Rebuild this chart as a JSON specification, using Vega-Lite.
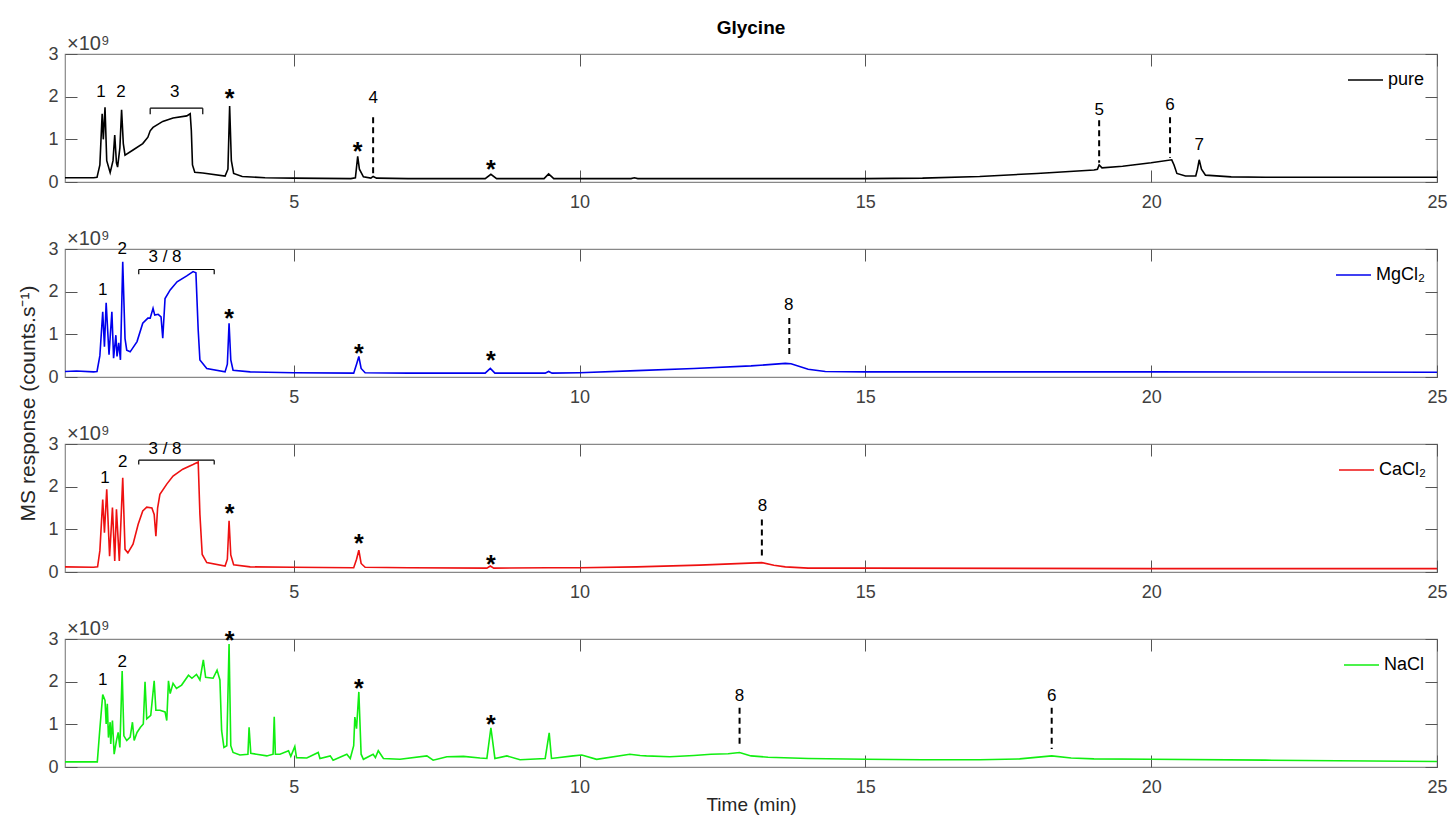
{
 "$schema": "https://vega.github.io/schema/vega-lite/v6.json",
 "padding": {"left": 16, "top": 19, "right": 10, "bottom": 5},
 "background": "white",
 "title": {"text": "Glycine", "fontSize": 19, "fontWeight": "bold", "font": "Liberation Sans", "anchor": "middle", "frame": "group", "color": "#000000", "offset": -5},
 "bounds": "flush",
 "spacing": 67,
 "resolve": {"scale": {"color": "independent"}, "legend": {"color": "independent"}},
 "datasets": {
  "d1": [
   {"s":"pure","t":1.0,"v":0.10},{"s":"pure","t":1.5,"v":0.10},{"s":"pure","t":1.56,"v":0.11},{"s":"pure","t":1.61,"v":0.4},{"s":"pure","t":1.65,"v":1.6},{"s":"pure","t":1.67,"v":1.0},{"s":"pure","t":1.70,"v":1.75},{"s":"pure","t":1.73,"v":0.5},{"s":"pure","t":1.79,"v":0.22},{"s":"pure","t":1.84,"v":0.5},{"s":"pure","t":1.87,"v":1.1},{"s":"pure","t":1.90,"v":0.45},{"s":"pure","t":1.92,"v":0.35},{"s":"pure","t":1.96,"v":0.8},{"s":"pure","t":1.99,"v":1.69},{"s":"pure","t":2.02,"v":0.9},{"s":"pure","t":2.05,"v":0.63},{"s":"pure","t":2.19,"v":0.75},{"s":"pure","t":2.36,"v":0.9},{"s":"pure","t":2.45,"v":1.05},{"s":"pure","t":2.49,"v":1.2},{"s":"pure","t":2.54,"v":1.28},{"s":"pure","t":2.71,"v":1.42},{"s":"pure","t":2.89,"v":1.5},{"s":"pure","t":3.13,"v":1.55},{"s":"pure","t":3.19,"v":1.6},{"s":"pure","t":3.21,"v":1.2},{"s":"pure","t":3.23,"v":0.4},{"s":"pure","t":3.27,"v":0.23},{"s":"pure","t":3.41,"v":0.21},{"s":"pure","t":3.80,"v":0.14},{"s":"pure","t":3.85,"v":0.3},{"s":"pure","t":3.88,"v":1.78},{"s":"pure","t":3.91,"v":0.5},{"s":"pure","t":3.95,"v":0.2},{"s":"pure","t":4.1,"v":0.13},{"s":"pure","t":4.5,"v":0.1},{"s":"pure","t":5.0,"v":0.09},{"s":"pure","t":6.0,"v":0.08},{"s":"pure","t":6.08,"v":0.1},{"s":"pure","t":6.12,"v":0.6},{"s":"pure","t":6.15,"v":0.3},{"s":"pure","t":6.22,"v":0.12},{"s":"pure","t":6.35,"v":0.09},{"s":"pure","t":6.39,"v":0.13},{"s":"pure","t":6.45,"v":0.09},{"s":"pure","t":7,"v":0.08},{"s":"pure","t":8.35,"v":0.08},{"s":"pure","t":8.45,"v":0.18},{"s":"pure","t":8.55,"v":0.08},{"s":"pure","t":9.38,"v":0.08},{"s":"pure","t":9.46,"v":0.19},{"s":"pure","t":9.55,"v":0.08},{"s":"pure","t":10.9,"v":0.08},{"s":"pure","t":10.96,"v":0.1},{"s":"pure","t":11.02,"v":0.08},{"s":"pure","t":14,"v":0.08},{"s":"pure","t":15,"v":0.08},{"s":"pure","t":16,"v":0.09},{"s":"pure","t":17,"v":0.13},{"s":"pure","t":18,"v":0.2},{"s":"pure","t":19.0,"v":0.28},{"s":"pure","t":19.06,"v":0.3},{"s":"pure","t":19.09,"v":0.4},{"s":"pure","t":19.14,"v":0.33},{"s":"pure","t":19.5,"v":0.37},{"s":"pure","t":20.0,"v":0.45},{"s":"pure","t":20.36,"v":0.52},{"s":"pure","t":20.40,"v":0.4},{"s":"pure","t":20.45,"v":0.2},{"s":"pure","t":20.6,"v":0.14},{"s":"pure","t":20.78,"v":0.14},{"s":"pure","t":20.81,"v":0.3},{"s":"pure","t":20.84,"v":0.52},{"s":"pure","t":20.88,"v":0.3},{"s":"pure","t":20.95,"v":0.16},{"s":"pure","t":21.4,"v":0.12},{"s":"pure","t":22,"v":0.11},{"s":"pure","t":25,"v":0.11}
  ],
  "d2": [
   {"s":"MgCl₂","t":1,"v":0.13},{"s":"MgCl₂","t":1.2,"v":0.14},{"s":"MgCl₂","t":1.5,"v":0.12},{"s":"MgCl₂","t":1.56,"v":0.13},{"s":"MgCl₂","t":1.61,"v":0.5},{"s":"MgCl₂","t":1.66,"v":1.53},{"s":"MgCl₂","t":1.69,"v":0.71},{"s":"MgCl₂","t":1.72,"v":1.74},{"s":"MgCl₂","t":1.77,"v":0.52},{"s":"MgCl₂","t":1.82,"v":1.53},{"s":"MgCl₂","t":1.85,"v":0.44},{"s":"MgCl₂","t":1.89,"v":0.98},{"s":"MgCl₂","t":1.91,"v":0.48},{"s":"MgCl₂","t":1.94,"v":0.8},{"s":"MgCl₂","t":1.97,"v":0.4},{"s":"MgCl₂","t":2.01,"v":2.70},{"s":"MgCl₂","t":2.05,"v":0.9},{"s":"MgCl₂","t":2.08,"v":0.63},{"s":"MgCl₂","t":2.14,"v":0.59},{"s":"MgCl₂","t":2.26,"v":0.83},{"s":"MgCl₂","t":2.36,"v":1.26},{"s":"MgCl₂","t":2.45,"v":1.38},{"s":"MgCl₂","t":2.49,"v":1.38},{"s":"MgCl₂","t":2.54,"v":1.61},{"s":"MgCl₂","t":2.57,"v":1.45},{"s":"MgCl₂","t":2.63,"v":1.47},{"s":"MgCl₂","t":2.68,"v":1.41},{"s":"MgCl₂","t":2.71,"v":0.91},{"s":"MgCl₂","t":2.75,"v":1.84},{"s":"MgCl₂","t":2.84,"v":2.04},{"s":"MgCl₂","t":2.96,"v":2.23},{"s":"MgCl₂","t":3.13,"v":2.37},{"s":"MgCl₂","t":3.24,"v":2.47},{"s":"MgCl₂","t":3.29,"v":2.44},{"s":"MgCl₂","t":3.33,"v":1.10},{"s":"MgCl₂","t":3.36,"v":0.40},{"s":"MgCl₂","t":3.48,"v":0.20},{"s":"MgCl₂","t":3.80,"v":0.12},{"s":"MgCl₂","t":3.84,"v":0.3},{"s":"MgCl₂","t":3.87,"v":1.26},{"s":"MgCl₂","t":3.9,"v":0.4},{"s":"MgCl₂","t":3.94,"v":0.16},{"s":"MgCl₂","t":4.24,"v":0.12},{"s":"MgCl₂","t":5,"v":0.1},{"s":"MgCl₂","t":6.05,"v":0.09},{"s":"MgCl₂","t":6.1,"v":0.3},{"s":"MgCl₂","t":6.14,"v":0.48},{"s":"MgCl₂","t":6.18,"v":0.2},{"s":"MgCl₂","t":6.25,"v":0.1},{"s":"MgCl₂","t":7,"v":0.09},{"s":"MgCl₂","t":8.35,"v":0.09},{"s":"MgCl₂","t":8.44,"v":0.2},{"s":"MgCl₂","t":8.52,"v":0.09},{"s":"MgCl₂","t":9.4,"v":0.09},{"s":"MgCl₂","t":9.46,"v":0.13},{"s":"MgCl₂","t":9.52,"v":0.09},{"s":"MgCl₂","t":10,"v":0.1},{"s":"MgCl₂","t":11,"v":0.15},{"s":"MgCl₂","t":12,"v":0.2},{"s":"MgCl₂","t":13,"v":0.26},{"s":"MgCl₂","t":13.6,"v":0.32},{"s":"MgCl₂","t":13.7,"v":0.31},{"s":"MgCl₂","t":14.0,"v":0.18},{"s":"MgCl₂","t":14.3,"v":0.13},{"s":"MgCl₂","t":15,"v":0.12},{"s":"MgCl₂","t":20,"v":0.12},{"s":"MgCl₂","t":25,"v":0.11}
  ],
  "d3": [
   {"s":"CaCl₂","t":1,"v":0.12},{"s":"CaCl₂","t":1.5,"v":0.11},{"s":"CaCl₂","t":1.57,"v":0.12},{"s":"CaCl₂","t":1.61,"v":0.5},{"s":"CaCl₂","t":1.66,"v":1.70},{"s":"CaCl₂","t":1.69,"v":0.92},{"s":"CaCl₂","t":1.73,"v":1.94},{"s":"CaCl₂","t":1.78,"v":0.37},{"s":"CaCl₂","t":1.83,"v":1.51},{"s":"CaCl₂","t":1.87,"v":0.26},{"s":"CaCl₂","t":1.90,"v":1.47},{"s":"CaCl₂","t":1.95,"v":0.26},{"s":"CaCl₂","t":2.01,"v":2.21},{"s":"CaCl₂","t":2.05,"v":0.53},{"s":"CaCl₂","t":2.10,"v":0.45},{"s":"CaCl₂","t":2.19,"v":0.65},{"s":"CaCl₂","t":2.28,"v":1.12},{"s":"CaCl₂","t":2.36,"v":1.43},{"s":"CaCl₂","t":2.43,"v":1.52},{"s":"CaCl₂","t":2.52,"v":1.50},{"s":"CaCl₂","t":2.56,"v":1.35},{"s":"CaCl₂","t":2.59,"v":0.84},{"s":"CaCl₂","t":2.62,"v":1.50},{"s":"CaCl₂","t":2.66,"v":1.82},{"s":"CaCl₂","t":2.78,"v":2.06},{"s":"CaCl₂","t":2.89,"v":2.25},{"s":"CaCl₂","t":3.06,"v":2.41},{"s":"CaCl₂","t":3.24,"v":2.52},{"s":"CaCl₂","t":3.33,"v":2.58},{"s":"CaCl₂","t":3.36,"v":1.35},{"s":"CaCl₂","t":3.40,"v":0.41},{"s":"CaCl₂","t":3.48,"v":0.22},{"s":"CaCl₂","t":3.80,"v":0.14},{"s":"CaCl₂","t":3.84,"v":0.3},{"s":"CaCl₂","t":3.87,"v":1.20},{"s":"CaCl₂","t":3.9,"v":0.4},{"s":"CaCl₂","t":3.95,"v":0.17},{"s":"CaCl₂","t":4.24,"v":0.12},{"s":"CaCl₂","t":5,"v":0.11},{"s":"CaCl₂","t":6.05,"v":0.1},{"s":"CaCl₂","t":6.1,"v":0.3},{"s":"CaCl₂","t":6.14,"v":0.51},{"s":"CaCl₂","t":6.18,"v":0.2},{"s":"CaCl₂","t":6.25,"v":0.11},{"s":"CaCl₂","t":7,"v":0.1},{"s":"CaCl₂","t":8.38,"v":0.09},{"s":"CaCl₂","t":8.44,"v":0.14},{"s":"CaCl₂","t":8.5,"v":0.09},{"s":"CaCl₂","t":9.45,"v":0.1},{"s":"CaCl₂","t":10,"v":0.1},{"s":"CaCl₂","t":11,"v":0.12},{"s":"CaCl₂","t":12.1,"v":0.16},{"s":"CaCl₂","t":13.19,"v":0.22},{"s":"CaCl₂","t":13.4,"v":0.16},{"s":"CaCl₂","t":13.6,"v":0.12},{"s":"CaCl₂","t":14,"v":0.09},{"s":"CaCl₂","t":15,"v":0.09},{"s":"CaCl₂","t":20,"v":0.08},{"s":"CaCl₂","t":25,"v":0.08}
  ],
  "d4": [
   {"s":"NaCl","t":1,"v":0.12},{"s":"NaCl","t":1.565,"v":0.12},{"s":"NaCl","t":1.61,"v":0.9},{"s":"NaCl","t":1.66,"v":1.70},{"s":"NaCl","t":1.70,"v":1.56},{"s":"NaCl","t":1.72,"v":1.01},{"s":"NaCl","t":1.74,"v":1.48},{"s":"NaCl","t":1.76,"v":0.69},{"s":"NaCl","t":1.79,"v":1.05},{"s":"NaCl","t":1.80,"v":0.54},{"s":"NaCl","t":1.83,"v":1.09},{"s":"NaCl","t":1.86,"v":0.30},{"s":"NaCl","t":1.90,"v":0.62},{"s":"NaCl","t":1.93,"v":0.81},{"s":"NaCl","t":1.96,"v":0.46},{"s":"NaCl","t":2.00,"v":2.25},{"s":"NaCl","t":2.03,"v":0.73},{"s":"NaCl","t":2.08,"v":0.62},{"s":"NaCl","t":2.14,"v":0.70},{"s":"NaCl","t":2.18,"v":1.05},{"s":"NaCl","t":2.21,"v":0.62},{"s":"NaCl","t":2.26,"v":0.81},{"s":"NaCl","t":2.32,"v":0.93},{"s":"NaCl","t":2.37,"v":1.01},{"s":"NaCl","t":2.40,"v":2.0},{"s":"NaCl","t":2.43,"v":1.13},{"s":"NaCl","t":2.50,"v":1.21},{"s":"NaCl","t":2.56,"v":2.02},{"s":"NaCl","t":2.59,"v":1.33},{"s":"NaCl","t":2.66,"v":1.33},{"s":"NaCl","t":2.75,"v":1.29},{"s":"NaCl","t":2.78,"v":1.09},{"s":"NaCl","t":2.81,"v":2.02},{"s":"NaCl","t":2.84,"v":1.72},{"s":"NaCl","t":2.89,"v":1.96},{"s":"NaCl","t":2.95,"v":1.84},{"s":"NaCl","t":3.04,"v":1.92},{"s":"NaCl","t":3.16,"v":2.15},{"s":"NaCl","t":3.22,"v":2.08},{"s":"NaCl","t":3.30,"v":2.17},{"s":"NaCl","t":3.36,"v":2.04},{"s":"NaCl","t":3.42,"v":2.51},{"s":"NaCl","t":3.46,"v":2.10},{"s":"NaCl","t":3.59,"v":2.08},{"s":"NaCl","t":3.66,"v":2.27},{"s":"NaCl","t":3.71,"v":2.04},{"s":"NaCl","t":3.74,"v":0.85},{"s":"NaCl","t":3.78,"v":0.46},{"s":"NaCl","t":3.83,"v":0.50},{"s":"NaCl","t":3.87,"v":2.88},{"s":"NaCl","t":3.90,"v":0.5},{"s":"NaCl","t":3.94,"v":0.34},{"s":"NaCl","t":4.06,"v":0.28},{"s":"NaCl","t":4.20,"v":0.3},{"s":"NaCl","t":4.22,"v":0.93},{"s":"NaCl","t":4.25,"v":0.32},{"s":"NaCl","t":4.35,"v":0.30},{"s":"NaCl","t":4.53,"v":0.26},{"s":"NaCl","t":4.64,"v":0.3},{"s":"NaCl","t":4.66,"v":1.18},{"s":"NaCl","t":4.68,"v":0.30},{"s":"NaCl","t":4.76,"v":0.30},{"s":"NaCl","t":4.91,"v":0.38},{"s":"NaCl","t":4.95,"v":0.25},{"s":"NaCl","t":5.02,"v":0.48},{"s":"NaCl","t":5.05,"v":0.22},{"s":"NaCl","t":5.23,"v":0.21},{"s":"NaCl","t":5.43,"v":0.34},{"s":"NaCl","t":5.46,"v":0.2},{"s":"NaCl","t":5.64,"v":0.26},{"s":"NaCl","t":5.69,"v":0.16},{"s":"NaCl","t":5.93,"v":0.30},{"s":"NaCl","t":5.99,"v":0.2},{"s":"NaCl","t":6.05,"v":0.5},{"s":"NaCl","t":6.07,"v":1.17},{"s":"NaCl","t":6.10,"v":0.9},{"s":"NaCl","t":6.14,"v":1.76},{"s":"NaCl","t":6.18,"v":0.3},{"s":"NaCl","t":6.22,"v":0.18},{"s":"NaCl","t":6.39,"v":0.30},{"s":"NaCl","t":6.43,"v":0.22},{"s":"NaCl","t":6.48,"v":0.38},{"s":"NaCl","t":6.57,"v":0.2},{"s":"NaCl","t":6.86,"v":0.18},{"s":"NaCl","t":7.33,"v":0.26},{"s":"NaCl","t":7.44,"v":0.16},{"s":"NaCl","t":7.68,"v":0.24},{"s":"NaCl","t":7.97,"v":0.25},{"s":"NaCl","t":8.26,"v":0.21},{"s":"NaCl","t":8.38,"v":0.2},{"s":"NaCl","t":8.45,"v":0.92},{"s":"NaCl","t":8.52,"v":0.2},{"s":"NaCl","t":8.73,"v":0.26},{"s":"NaCl","t":8.96,"v":0.17},{"s":"NaCl","t":9.40,"v":0.2},{"s":"NaCl","t":9.47,"v":0.80},{"s":"NaCl","t":9.51,"v":0.2},{"s":"NaCl","t":9.89,"v":0.26},{"s":"NaCl","t":10.04,"v":0.28},{"s":"NaCl","t":10.30,"v":0.18},{"s":"NaCl","t":10.88,"v":0.30},{"s":"NaCl","t":11.06,"v":0.27},{"s":"NaCl","t":11.17,"v":0.26},{"s":"NaCl","t":11.58,"v":0.24},{"s":"NaCl","t":12.0,"v":0.27},{"s":"NaCl","t":12.3,"v":0.3},{"s":"NaCl","t":12.6,"v":0.31},{"s":"NaCl","t":12.8,"v":0.34},{"s":"NaCl","t":13.0,"v":0.26},{"s":"NaCl","t":13.3,"v":0.23},{"s":"NaCl","t":14,"v":0.2},{"s":"NaCl","t":15,"v":0.18},{"s":"NaCl","t":16,"v":0.17},{"s":"NaCl","t":17,"v":0.17},{"s":"NaCl","t":17.7,"v":0.19},{"s":"NaCl","t":18.26,"v":0.26},{"s":"NaCl","t":18.6,"v":0.21},{"s":"NaCl","t":19,"v":0.19},{"s":"NaCl","t":20,"v":0.18},{"s":"NaCl","t":22,"v":0.16},{"s":"NaCl","t":25,"v":0.13}
  ],
  "n1": [{"t":1.63,"v":2.11,"label":"1"},{"t":1.98,"v":2.11,"label":"2"},{"t":2.92,"v":2.11,"label":"3"},{"t":6.39,"v":1.97,"label":"4"},{"t":19.09,"v":1.69,"label":"5"},{"t":20.33,"v":1.80,"label":"6"},{"t":20.84,"v":0.87,"label":"7"}],
  "s1": [{"t":3.88,"v":2.11},{"t":6.12,"v":0.87},{"t":8.45,"v":0.45}],
  "r1": [{"t":6.39,"y1":1.52,"y2":0.14},{"t":19.09,"y1":1.45,"y2":0.45},{"t":20.33,"y1":1.52,"y2":0.56}],
  "b1": [{"x1":2.49,"x2":3.41,"y1":1.73,"y2":1.73},{"x1":2.49,"x2":2.49,"y1":1.73,"y2":1.59},{"x1":3.41,"x2":3.41,"y1":1.73,"y2":1.59}],
  "n2": [{"t":1.66,"v":2.05,"label":"1"},{"t":2.0,"v":2.99,"label":"2"},{"t":2.75,"v":2.82,"label":"3 / 8"},{"t":13.66,"v":1.69,"label":"8"}],
  "s2": [{"t":3.87,"v":1.53},{"t":6.14,"v":0.71},{"t":8.45,"v":0.54}],
  "r2": [{"t":13.67,"y1":1.38,"y2":0.46}],
  "b2": [{"x1":2.29,"x2":3.61,"y1":2.52,"y2":2.52},{"x1":2.29,"x2":2.29,"y1":2.52,"y2":2.41},{"x1":3.61,"x2":3.61,"y1":2.52,"y2":2.41}],
  "n3": [{"t":1.70,"v":2.21,"label":"1"},{"t":2.01,"v":2.58,"label":"2"},{"t":2.75,"v":2.89,"label":"3 / 8"},{"t":13.2,"v":1.55,"label":"8"}],
  "s3": [{"t":3.88,"v":1.52},{"t":6.14,"v":0.82},{"t":8.45,"v":0.33}],
  "r3": [{"t":13.19,"y1":1.23,"y2":0.34}],
  "b3": [{"x1":2.29,"x2":3.61,"y1":2.62,"y2":2.62},{"x1":2.29,"x2":2.29,"y1":2.62,"y2":2.52},{"x1":3.61,"x2":3.61,"y1":2.62,"y2":2.52}],
  "n4": [{"t":1.66,"v":2.04,"label":"1"},{"t":2.0,"v":2.46,"label":"2"},{"t":12.8,"v":1.67,"label":"8"},{"t":18.26,"v":1.67,"label":"6"}],
  "s4": [{"t":3.88,"v":3.11},{"t":6.14,"v":1.99},{"t":8.45,"v":1.16}],
  "r4": [{"t":12.8,"y1":1.39,"y2":0.5},{"t":18.26,"y1":1.39,"y2":0.42}],
  "exp": [{"t":1,"v":3,"label":"×10⁹"}],
  "frame": [{"t":1,"v":0}]
 },
 "vconcat": [
  {
   "width": 1372, "height": 128,
   "resolve": {"axis": {"x": "independent", "y": "independent"}},
   "layer": [
    {"data": {"name": "d1"}, "mark": {"type": "line", "strokeWidth": 1.6},
     "encoding": {
      "x": {"field": "t", "type": "quantitative", "scale": {"domain": [1, 25], "nice": false, "zero": false}, "axis": {"orient": "bottom", "values": [5, 10, 15, 20, 25], "labelPadding": 23, "title": null}},
      "y": {"field": "v", "type": "quantitative", "scale": {"domain": [0, 3], "nice": false}, "axis": {"orient": "left", "values": [0, 1, 2, 3], "labelPadding": 19, "title": null}},
      "color": {"field": "s", "type": "nominal", "scale": {"domain": ["pure"], "range": ["#000000"]}, "legend": {"orient": "none", "legendX": 1282, "legendY": 7.5, "title": null}}
     }},
    {"data": {"name": "frame"}, "mark": {"type": "point", "opacity": 0},
     "encoding": {
      "x": {"field": "t", "type": "quantitative", "scale": {"domain": [1, 25], "nice": false, "zero": false}, "axis": {"orient": "top", "values": [5, 10, 15, 20, 25], "labels": false, "title": null}},
      "y": {"field": "v", "type": "quantitative", "scale": {"domain": [0, 3], "nice": false}, "axis": {"orient": "right", "values": [0, 1, 2, 3], "labels": false, "title": null}}
     }},
    {"data": {"name": "r1"}, "mark": {"type": "rule", "strokeDash": [6, 4], "strokeWidth": 2, "color": "#000000"},
     "encoding": {"x": {"field": "t", "type": "quantitative", "axis": null}, "y": {"field": "y1", "type": "quantitative", "axis": null}, "y2": {"field": "y2"}}},
    {"data": {"name": "b1"}, "mark": {"type": "rule", "strokeWidth": 1.2, "color": "#000000"},
     "encoding": {"x": {"field": "x1", "type": "quantitative", "axis": null}, "x2": {"field": "x2"}, "y": {"field": "y1", "type": "quantitative", "axis": null}, "y2": {"field": "y2"}}},
    {"data": {"name": "n1"}, "mark": {"type": "text", "fontSize": 17, "baseline": "middle", "align": "center", "color": "#000000"},
     "encoding": {"x": {"field": "t", "type": "quantitative", "axis": null}, "y": {"field": "v", "type": "quantitative", "axis": null}, "text": {"field": "label"}}},
    {"data": {"name": "s1"}, "mark": {"type": "text", "text": "*", "fontSize": 25, "fontWeight": "bold", "baseline": "alphabetic", "dy": 15, "align": "center", "color": "#000000"},
     "encoding": {"x": {"field": "t", "type": "quantitative", "axis": null}, "y": {"field": "v", "type": "quantitative", "axis": null}}},
    {"data": {"name": "exp"}, "mark": {"type": "text", "fontSize": 20, "baseline": "alphabetic", "align": "left", "dx": 2, "dy": -4, "color": "#404040"},
     "encoding": {"x": {"field": "t", "type": "quantitative", "axis": null}, "y": {"field": "v", "type": "quantitative", "axis": null}, "text": {"field": "label"}}}
   ]
  },
  {
   "width": 1372, "height": 128,
   "resolve": {"axis": {"x": "independent", "y": "independent"}},
   "layer": [
    {"data": {"name": "d2"}, "mark": {"type": "line", "strokeWidth": 1.6},
     "encoding": {
      "x": {"field": "t", "type": "quantitative", "scale": {"domain": [1, 25], "nice": false, "zero": false}, "axis": {"orient": "bottom", "values": [5, 10, 15, 20, 25], "labelPadding": 23, "title": null}},
      "y": {"field": "v", "type": "quantitative", "scale": {"domain": [0, 3], "nice": false}, "axis": {"orient": "left", "values": [0, 1, 2, 3], "labelPadding": 19, "title": "MS response (counts.s⁻¹)", "titleFontSize": 21, "titleAngle": 270, "titleX": -31, "titleY": 154, "titleAlign": "center", "titleBaseline": "alphabetic"}},
      "color": {"field": "s", "type": "nominal", "scale": {"domain": ["MgCl₂"], "range": ["#0000ee"]}, "legend": {"orient": "none", "legendX": 1270, "legendY": 7.5, "title": null}}
     }},
    {"data": {"name": "frame"}, "mark": {"type": "point", "opacity": 0},
     "encoding": {
      "x": {"field": "t", "type": "quantitative", "scale": {"domain": [1, 25], "nice": false, "zero": false}, "axis": {"orient": "top", "values": [5, 10, 15, 20, 25], "labels": false, "title": null}},
      "y": {"field": "v", "type": "quantitative", "scale": {"domain": [0, 3], "nice": false}, "axis": {"orient": "right", "values": [0, 1, 2, 3], "labels": false, "title": null}}
     }},
    {"data": {"name": "r2"}, "mark": {"type": "rule", "strokeDash": [6, 4], "strokeWidth": 2, "color": "#000000"},
     "encoding": {"x": {"field": "t", "type": "quantitative", "axis": null}, "y": {"field": "y1", "type": "quantitative", "axis": null}, "y2": {"field": "y2"}}},
    {"data": {"name": "b2"}, "mark": {"type": "rule", "strokeWidth": 1.2, "color": "#000000"},
     "encoding": {"x": {"field": "x1", "type": "quantitative", "axis": null}, "x2": {"field": "x2"}, "y": {"field": "y1", "type": "quantitative", "axis": null}, "y2": {"field": "y2"}}},
    {"data": {"name": "n2"}, "mark": {"type": "text", "fontSize": 17, "baseline": "middle", "align": "center", "color": "#000000"},
     "encoding": {"x": {"field": "t", "type": "quantitative", "axis": null}, "y": {"field": "v", "type": "quantitative", "axis": null}, "text": {"field": "label"}}},
    {"data": {"name": "s2"}, "mark": {"type": "text", "text": "*", "fontSize": 25, "fontWeight": "bold", "baseline": "alphabetic", "dy": 15, "align": "center", "color": "#000000"},
     "encoding": {"x": {"field": "t", "type": "quantitative", "axis": null}, "y": {"field": "v", "type": "quantitative", "axis": null}}},
    {"data": {"name": "exp"}, "mark": {"type": "text", "fontSize": 20, "baseline": "alphabetic", "align": "left", "dx": 2, "dy": -4, "color": "#404040"},
     "encoding": {"x": {"field": "t", "type": "quantitative", "axis": null}, "y": {"field": "v", "type": "quantitative", "axis": null}, "text": {"field": "label"}}}
   ]
  },
  {
   "width": 1372, "height": 128,
   "resolve": {"axis": {"x": "independent", "y": "independent"}},
   "layer": [
    {"data": {"name": "d3"}, "mark": {"type": "line", "strokeWidth": 1.6},
     "encoding": {
      "x": {"field": "t", "type": "quantitative", "scale": {"domain": [1, 25], "nice": false, "zero": false}, "axis": {"orient": "bottom", "values": [5, 10, 15, 20, 25], "labelPadding": 23, "title": null}},
      "y": {"field": "v", "type": "quantitative", "scale": {"domain": [0, 3], "nice": false}, "axis": {"orient": "left", "values": [0, 1, 2, 3], "labelPadding": 19, "title": null}},
      "color": {"field": "s", "type": "nominal", "scale": {"domain": ["CaCl₂"], "range": ["#ee1111"]}, "legend": {"orient": "none", "legendX": 1273, "legendY": 7.5, "title": null}}
     }},
    {"data": {"name": "frame"}, "mark": {"type": "point", "opacity": 0},
     "encoding": {
      "x": {"field": "t", "type": "quantitative", "scale": {"domain": [1, 25], "nice": false, "zero": false}, "axis": {"orient": "top", "values": [5, 10, 15, 20, 25], "labels": false, "title": null}},
      "y": {"field": "v", "type": "quantitative", "scale": {"domain": [0, 3], "nice": false}, "axis": {"orient": "right", "values": [0, 1, 2, 3], "labels": false, "title": null}}
     }},
    {"data": {"name": "r3"}, "mark": {"type": "rule", "strokeDash": [6, 4], "strokeWidth": 2, "color": "#000000"},
     "encoding": {"x": {"field": "t", "type": "quantitative", "axis": null}, "y": {"field": "y1", "type": "quantitative", "axis": null}, "y2": {"field": "y2"}}},
    {"data": {"name": "b3"}, "mark": {"type": "rule", "strokeWidth": 1.2, "color": "#000000"},
     "encoding": {"x": {"field": "x1", "type": "quantitative", "axis": null}, "x2": {"field": "x2"}, "y": {"field": "y1", "type": "quantitative", "axis": null}, "y2": {"field": "y2"}}},
    {"data": {"name": "n3"}, "mark": {"type": "text", "fontSize": 17, "baseline": "middle", "align": "center", "color": "#000000"},
     "encoding": {"x": {"field": "t", "type": "quantitative", "axis": null}, "y": {"field": "v", "type": "quantitative", "axis": null}, "text": {"field": "label"}}},
    {"data": {"name": "s3"}, "mark": {"type": "text", "text": "*", "fontSize": 25, "fontWeight": "bold", "baseline": "alphabetic", "dy": 15, "align": "center", "color": "#000000"},
     "encoding": {"x": {"field": "t", "type": "quantitative", "axis": null}, "y": {"field": "v", "type": "quantitative", "axis": null}}},
    {"data": {"name": "exp"}, "mark": {"type": "text", "fontSize": 20, "baseline": "alphabetic", "align": "left", "dx": 2, "dy": -4, "color": "#404040"},
     "encoding": {"x": {"field": "t", "type": "quantitative", "axis": null}, "y": {"field": "v", "type": "quantitative", "axis": null}, "text": {"field": "label"}}}
   ]
  },
  {
   "width": 1372, "height": 128,
   "resolve": {"axis": {"x": "independent", "y": "independent"}},
   "layer": [
    {"data": {"name": "d4"}, "mark": {"type": "line", "strokeWidth": 1.6},
     "encoding": {
      "x": {"field": "t", "type": "quantitative", "scale": {"domain": [1, 25], "nice": false, "zero": false}, "axis": {"orient": "bottom", "values": [5, 10, 15, 20, 25], "labelPadding": 23, "title": "Time (min)", "titlePadding": -1, "titleFontSize": 19}},
      "y": {"field": "v", "type": "quantitative", "scale": {"domain": [0, 3], "nice": false}, "axis": {"orient": "left", "values": [0, 1, 2, 3], "labelPadding": 19, "title": null}},
      "color": {"field": "s", "type": "nominal", "scale": {"domain": ["NaCl"], "range": ["#11ee11"]}, "legend": {"orient": "none", "legendX": 1278, "legendY": 7.5, "title": null}}
     }},
    {"data": {"name": "frame"}, "mark": {"type": "point", "opacity": 0},
     "encoding": {
      "x": {"field": "t", "type": "quantitative", "scale": {"domain": [1, 25], "nice": false, "zero": false}, "axis": {"orient": "top", "values": [5, 10, 15, 20, 25], "labels": false, "title": null}},
      "y": {"field": "v", "type": "quantitative", "scale": {"domain": [0, 3], "nice": false}, "axis": {"orient": "right", "values": [0, 1, 2, 3], "labels": false, "title": null}}
     }},
    {"data": {"name": "r4"}, "mark": {"type": "rule", "strokeDash": [6, 4], "strokeWidth": 2, "color": "#000000"},
     "encoding": {"x": {"field": "t", "type": "quantitative", "axis": null}, "y": {"field": "y1", "type": "quantitative", "axis": null}, "y2": {"field": "y2"}}},
    {"data": {"name": "n4"}, "mark": {"type": "text", "fontSize": 17, "baseline": "middle", "align": "center", "color": "#000000"},
     "encoding": {"x": {"field": "t", "type": "quantitative", "axis": null}, "y": {"field": "v", "type": "quantitative", "axis": null}, "text": {"field": "label"}}},
    {"data": {"name": "s4"}, "mark": {"type": "text", "text": "*", "fontSize": 25, "fontWeight": "bold", "baseline": "alphabetic", "dy": 15, "align": "center", "color": "#000000"},
     "encoding": {"x": {"field": "t", "type": "quantitative", "axis": null}, "y": {"field": "v", "type": "quantitative", "axis": null}}},
    {"data": {"name": "exp"}, "mark": {"type": "text", "fontSize": 20, "baseline": "alphabetic", "align": "left", "dx": 2, "dy": -4, "color": "#404040"},
     "encoding": {"x": {"field": "t", "type": "quantitative", "axis": null}, "y": {"field": "v", "type": "quantitative", "axis": null}, "text": {"field": "label"}}}
   ]
  }
 ],
 "config": {
  "font": "Liberation Sans",
  "view": {"stroke": "#888888", "strokeWidth": 1.2},
  "axis": {"grid": false, "domain": false, "tickColor": "#555555", "tickWidth": 1, "tickSize": -12, "labelFontSize": 18, "labelColor": "#404040", "labelFont": "Liberation Sans", "titleFont": "Liberation Sans", "titleFontSize": 20, "titleFontWeight": "normal", "titleColor": "#262626", "labelFlush": false, "labelOverlap": false, "labelBound": false},
  "legend": {"labelFontSize": 18, "labelFont": "Liberation Sans", "labelColor": "#000000", "symbolType": "stroke", "symbolSize": 1225, "symbolStrokeWidth": 1.5, "padding": 0, "labelOffset": 4},
  "text": {"font": "Liberation Sans"}
 }
}
